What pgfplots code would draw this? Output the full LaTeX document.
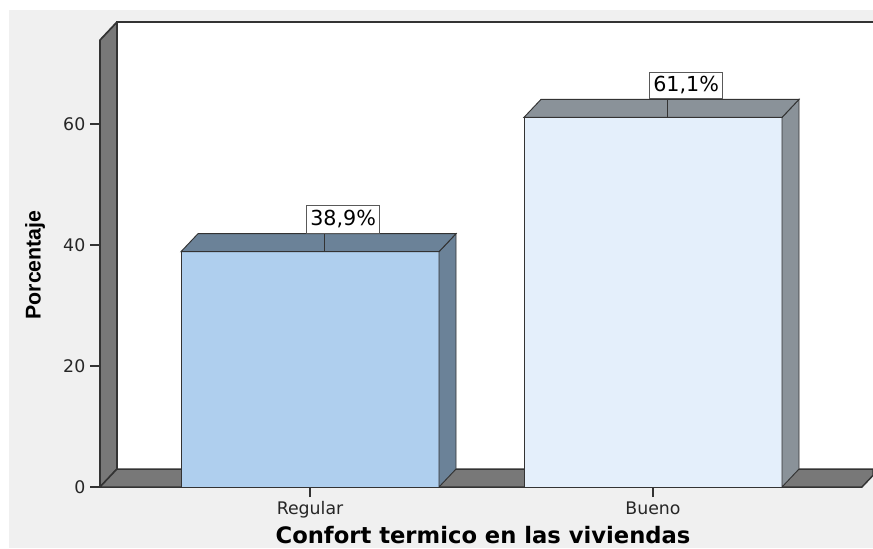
\documentclass[border=0pt]{standalone}
\usepackage{pgfplots}
\pgfplotsset{compat=1.18}
\usepackage{fontspec}
\setmainfont{DejaVu Sans}
\newfontfamily\libsans{Liberation Sans}
\definecolor{bggray}{HTML}{F0F0F0}
\definecolor{wallgray}{HTML}{787878}
\definecolor{edge}{HTML}{333333}
\definecolor{regfront}{HTML}{AFCFEE}
\definecolor{regdark}{HTML}{6B8298}
\definecolor{buefront}{HTML}{E4EFFB}
\definecolor{buedark}{HTML}{8A9299}
\begin{document}
\begin{tikzpicture}
\begin{axis}[
  x=257.25pt, y=4.5375pt,
  xmin=-0.6122, xmax=1.6414, ymin=0, ymax=76.86,
  axis line style={draw=none},
  axis on top,
  clip=false,
  xtick={0,1}, xticklabels={Regular,Bueno},
  ytick={0,20,40,60},
  tick align=outside,
  xtick pos=left, ytick pos=left,
  major tick length=7.5pt,
  tick style={draw=black!80, line width=0.8pt},
  ticklabel style={font=\fontsize{13}{15}\selectfont, text=black!85},
  /pgf/number format/assume math mode=true,
  xlabel={Confort termico en las viviendas},
  ylabel={Porcentaje},
  xlabel style={at={(axis description cs:0.4955,-0.121)}, anchor=base, inner sep=0pt, font=\bfseries\fontsize{17}{20}\selectfont},
  ylabel style={at={(axis description cs:-0.0841,0.4775)}, anchor=center, inner sep=0pt, font=\libsans\bfseries\fontsize{16}{19}\selectfont},
]
% background
\fill[white] (axis cs:-0.9038,-10.083) rectangle (axis cs:1.6414,80.5);
\fill[bggray] (axis cs:-0.8776,-10.083) rectangle (axis cs:1.6414,78.84);
\coordinate (BL) at (axis cs:-0.9038,-10.083);
\coordinate (TR) at (axis cs:1.6414,80.5);
% back wall
\fill[white] (axis cs:-0.5627,2.975) rectangle (axis cs:1.6414,76.86);
\draw[edge, line width=1.5pt] (axis cs:-0.5627,2.975) -- (axis cs:-0.5627,76.86) -- (axis cs:1.6414,76.86);
% left wall
\filldraw[fill=wallgray, draw=edge, line width=1.3pt, line join=round]
  (axis cs:-0.6122,0) -- (axis cs:-0.6122,73.88) -- (axis cs:-0.5627,76.86) -- (axis cs:-0.5627,2.975) -- cycle;
% floor
\filldraw[fill=wallgray, draw=edge, line width=1.1pt, line join=round]
  (axis cs:-0.6122,0) -- (axis cs:1.6093,0) -- (axis cs:1.6414,1.925) -- (axis cs:1.6414,2.975) -- (axis cs:-0.5627,2.975) -- cycle;
% Regular bar
\addplot[ybar, bar width=0.7522, bar shift=0pt, fill=regfront, draw=edge, line width=0.7pt] coordinates {(0,38.9)};
\addplot[fill=regdark, draw=edge, line width=0.7pt] coordinates {(0.3761,0) (0.4257,2.975) (0.4257,41.875) (0.3761,38.9)} -- cycle;
\addplot[fill=regdark, draw=edge, line width=0.7pt] coordinates {(-0.3761,38.9) (0.3761,38.9) (0.4257,41.875) (-0.3265,41.875)} -- cycle;
% Bueno bar
\addplot[ybar, bar width=0.7522, bar shift=0pt, fill=buefront, draw=edge, line width=0.7pt] coordinates {(1,61.1)};
\addplot[fill=buedark, draw=edge, line width=0.7pt] coordinates {(1.3761,0) (1.4257,2.975) (1.4257,64.075) (1.3761,61.1)} -- cycle;
\addplot[fill=buedark, draw=edge, line width=0.7pt] coordinates {(0.6239,61.1) (1.3761,61.1) (1.4257,64.075) (0.6735,64.075)} -- cycle;
% connector lines
\addplot[draw=edge, line width=0.6pt] coordinates {(0.042,38.9) (0.042,41.875)};
\addplot[draw=edge, line width=0.6pt] coordinates {(1.042,61.1) (1.042,64.075)};
% labels
\node[draw=black!65, line width=0.8pt, fill=white, anchor=south west, inner xsep=2.5pt, inner ysep=0pt, minimum height=21pt, font=\fontsize{15.5}{18}\selectfont] at (axis cs:-0.0105,41.875) {38,9\%};
\node[draw=black!65, line width=0.8pt, fill=white, anchor=south west, inner xsep=2.5pt, inner ysep=0pt, minimum height=20pt, font=\fontsize{15.5}{18}\selectfont] at (axis cs:0.9895,64.075) {61,1\%};
\end{axis}
\pgfresetboundingbox
\path[use as bounding box] (BL) rectangle (TR);
\end{tikzpicture}
\end{document}
